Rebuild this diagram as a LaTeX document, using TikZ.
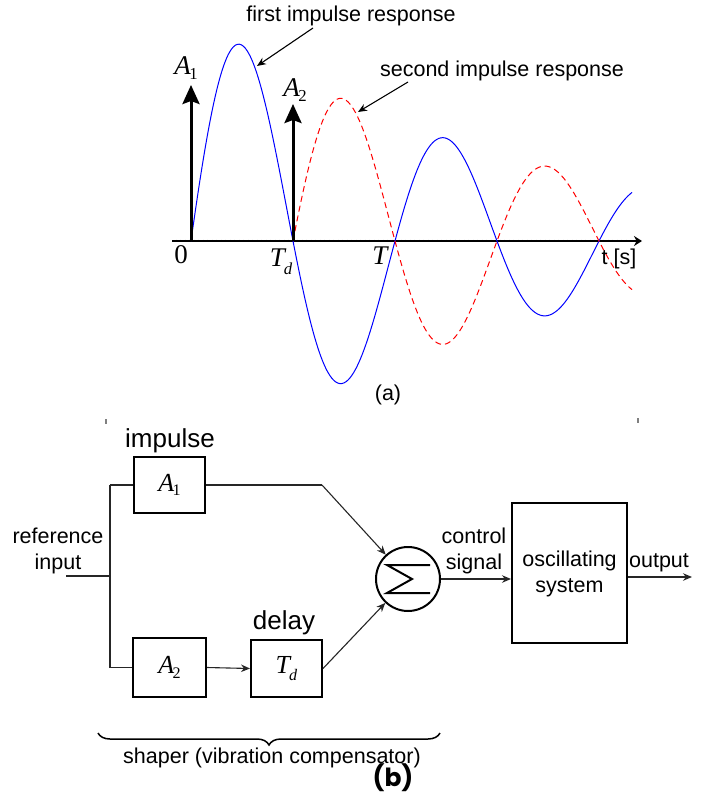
\documentclass[tikz,border=0pt]{standalone}
\usepackage{fontspec}
\setmainfont{Liberation Sans}
\newfontfamily\tms{Liberation Serif}
\newfontfamily\pop{Poppins}
\usetikzlibrary{arrows.meta,decorations.pathreplacing,calc}
\newcommand{\subA}[2]{{\tms\itshape\fontsize{#2}{#2}\selectfont A}\kern-1.5pt\raisebox{-0.18\dimexpr#2pt\relax}{\tms\fontsize{0.62\dimexpr#2pt\relax}{10}\selectfont #1}}
\newcommand{\subT}[1]{{\tms\itshape\fontsize{#1}{#1}\selectfont T}\kern-1pt\raisebox{-0.3\dimexpr#1pt\relax}{\tms\itshape\fontsize{0.62\dimexpr#1pt\relax}{10}\selectfont d}}
\begin{document}
\begin{tikzpicture}[x=1pt,y=-1pt,
  lbl/.style={font=\fontsize{21.5}{26}\selectfont, inner sep=0pt, align=center},
  big/.style={font=\fontsize{26}{30}\selectfont, inner sep=0pt},
  mth/.style={font=\tms\fontsize{27}{27}\selectfont, inner sep=0pt},
  blk/.style={draw, line width=2pt, inner sep=0pt},
  conn/.style={line width=1.1pt, black!85},
  arr/.style={conn, -{Stealth[length=9pt,width=7.5pt]}},
  imp/.style={line width=3pt, -{Stealth[length=19pt,width=17pt,inset=3pt]}},
  resp/.style={line width=1pt}]
\useasboundingbox (0,0) rectangle (710,795);

% ---------- (a) ----------
\coordinate (axL) at (172,241);
\coordinate (axR) at (642,241);
\coordinate (t0) at (191,241);
\coordinate (tD) at (293,241);
\coordinate (a1top) at (191,85);
\coordinate (a2top) at (293,104);
\foreach \i in {0,...,100} \draw[line width=0.35pt, black!70] ({176+4.5*\i},239.6) -- ++(0,2.8);
\draw[line width=1.5pt, -{Stealth[length=8pt,width=10pt]}] (axL) -- (axR);

\draw[blue, resp] plot[domain=0:441, samples=220, smooth]
  ({191+\x},{241-230*exp(-0.003153*\x)*sin(\x*1.764706)});
\draw[red, resp, dash pattern=on 6pt off 4pt] plot[domain=0:339, samples=180, smooth]
  ({293+\x},{241-166.75*exp(-0.003153*\x)*sin(\x*1.764706)});

\draw[imp] (t0) -- (a1top);
\draw[imp] (tD) -- (a2top);

\node[inner sep=0pt] (A1lab) at (186,68) {\subA{1}{27}};
\node[inner sep=0pt] (A2lab) at (295,90) {\subA{2}{27}};
\node[mth] (zero) at (181,255) {0};
\node[inner sep=0pt] (Tdlab) at (281,262) {\subT{27}};
\node[mth, font=\tms\itshape\fontsize{27}{27}\selectfont] (Tlab) at (380,256) {T};
\node[lbl] (tlab) at (619,259) {t [s]};

\node[lbl] (first) at (351,16) {first impulse response};
\node[lbl] (second) at (502,71) {second impulse response};
\coordinate (firstTail) at (313,28);
\coordinate (firstHead) at (257,66);
\coordinate (secondTail) at (408,82);
\coordinate (secondHead) at (358,112);
\draw[arr, black] (firstTail) -- (firstHead);
\draw[arr, black] (secondTail) -- (secondHead);

\node[lbl] (alab) at (388,395) {(a)};

\coordinate (markL1) at (106,419); \coordinate (markL2) at (106,424);
\coordinate (markR1) at (638,418); \coordinate (markR2) at (638,423);
\draw[gray, line width=1.2pt] (markL1) -- (markL2);
\draw[gray, line width=1.2pt] (markR1) -- (markR2);

% ---------- (b) ----------
\node[blk, minimum width=71pt, minimum height=56pt] (A1) at (169.5,485) {\subA{1}{26}};
\node[blk, minimum width=73pt, minimum height=59pt] (A2) at (169.5,667.5) {\subA{2}{26}};
\node[blk, minimum width=71pt, minimum height=57pt] (Td) at (286.5,668.5) {\subT{26}};
\node[blk, minimum width=115pt, minimum height=140pt] (osc) at (569.5,573) {};
\node[draw, circle, line width=2pt, minimum size=64pt, inner sep=0pt] (sum) at (408,579) {};
\draw[line width=2pt, line join=miter]
  ($(sum)+(22,-14)$) -- ($(sum)+(-21,-14)$) -- ($(sum)+(4,0)$) -- ($(sum)+(-21,14)$) -- ($(sum)+(22,14)$);

\node[big] (impulse) at (170,441) {impulse};
\node[big] (delay) at (284,623) {delay};
\node[lbl] (refin) at (58,551) {reference\\input};
\node[lbl] (ctrl) at (474,551) {control\\signal};
\node[lbl] (osclab) at (569.5,574) {oscillating\\system};
\node[lbl] (outlab) at (659,563) {output};

\coordinate (inL) at (66,576);
\coordinate (split) at (110,576);
\coordinate (brTop) at (110,485);
\coordinate (brBot) at (110,667.5);
\coordinate (bend) at (322,485);
\coordinate (outEnd) at (692,577);

\draw[conn] (inL) -- (split);
\draw[conn] (brTop) -- (brBot);
\draw[conn] (brTop) -- (A1.west);
\draw[conn] (brBot) -- (A2.west);
\draw[conn] (A1.east) -- (bend);
\draw[arr] (bend) -- (sum);
\draw[arr] (A2.east) -- (Td.west);
\draw[arr] (Td.east) -- (sum);
\draw[arr] (sum.east) -- (sum.east -| osc.west);
\draw[arr] (osc.east |- outEnd) -- (outEnd);

\draw[decorate, decoration={brace, mirror, amplitude=12pt}, line width=1.5pt] (98,733) -- (440,733);
\node[lbl] (shaper) at (272,758) {shaper (vibration compensator)};
\node[inner sep=0pt, font=\pop\bfseries\fontsize{25}{25}\selectfont] (blab) at (393,778) {(b)};
\end{tikzpicture}
\end{document}
